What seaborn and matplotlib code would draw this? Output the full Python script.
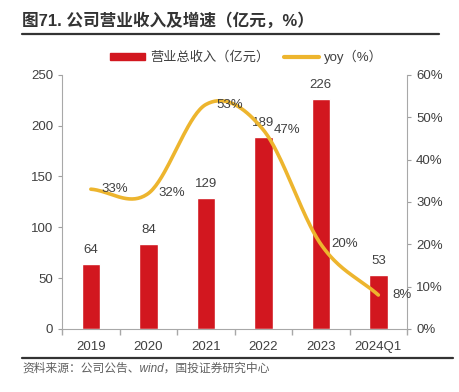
import numpy as np
import pandas as pd
import matplotlib
matplotlib.use("Agg")
import matplotlib.pyplot as plt
import seaborn as sns
from matplotlib.lines import Line2D
from matplotlib.patches import Patch

# data
years = ["2019", "2020", "2021", "2022", "2023", "2024Q1"]
revenue = [64, 84, 129, 189, 226, 53]
yoy = [33, 32, 53, 47, 20, 8]

RED = "#D2171F"
YELLOW = "#EDB52E"
GREY = "#404040"

sns.set_theme(style="white")
plt.rcParams["font.family"] = ["Liberation Sans", "Noto Sans CJK SC", "DejaVu Sans"]
plt.rcParams["axes.unicode_minus"] = False


def catmull_rom(xs, ys, n=40):
    # smooth line through the points, like excel's "smoothed line"
    xs = np.asarray(xs, float)
    ys = np.asarray(ys, float)
    px = np.concatenate([[2 * xs[0] - xs[1]], xs, [2 * xs[-1] - xs[-2]]])
    py = np.concatenate([[2 * ys[0] - ys[1]], ys, [2 * ys[-1] - ys[-2]]])
    out_x, out_y = [], []
    t = np.linspace(0, 1, n)
    for i in range(1, len(px) - 2):
        for p, out in ((px, out_x), (py, out_y)):
            p0, p1, p2, p3 = p[i - 1], p[i], p[i + 1], p[i + 2]
            seg = 0.5 * ((2 * p1) + (-p0 + p2) * t
                         + (2 * p0 - 5 * p1 + 4 * p2 - p3) * t ** 2
                         + (-p0 + 3 * p1 - 3 * p2 + p3) * t ** 3)
            out.extend(seg)
    return np.array(out_x), np.array(out_y)


df = pd.DataFrame({"year": years, "revenue": revenue, "yoy": yoy})

fig = plt.figure(figsize=(4.6, 3.92), dpi=100)
ax = fig.add_axes([0.135, 0.161, 0.75, 0.648])

sns.barplot(data=df, x="year", y="revenue", color=RED, width=0.32,
            saturation=1, ax=ax)
ax.set_ylim(0, 250)
ax.set_yticks(range(0, 251, 50))
ax.set_xlim(-0.5, 5.5)
ax.set_xlabel("")
ax.set_ylabel("")

for i, v in enumerate(revenue):
    ax.annotate(str(v), (i, v), xytext=(0, 10), textcoords="offset points",
                ha="center", va="center", fontsize=9.5, color=GREY)

ax2 = ax.twinx()
sx, sy = catmull_rom(range(len(yoy)), yoy)
ax2.plot(sx, sy, color=YELLOW, lw=2.6, solid_capstyle="round")
ax2.set_ylim(0, 60)
ax2.set_yticks(range(0, 61, 10))
ax2.set_yticklabels([f"{t}%" for t in range(0, 61, 10)])
for i, v in enumerate(yoy):
    ax2.annotate(f"{v}%", (i, v), xytext=(17, 0), textcoords="offset points",
                 ha="center", va="center", fontsize=9.5, color=GREY)

for a in (ax, ax2):
    for s in a.spines.values():
        s.set_visible(False)
    a.tick_params(colors="#A0A0A0", labelcolor=GREY, labelsize=9.5,
                  length=3, width=0.8)
    a.grid(False)
ax.spines["left"].set_visible(True)
ax.spines["bottom"].set_visible(True)
ax2.spines["right"].set_visible(True)
for s in (ax.spines["left"], ax.spines["bottom"], ax2.spines["right"]):
    s.set_color("#A8A8A8")
    s.set_linewidth(0.8)
ax.tick_params(axis="y", left=True)
ax2.tick_params(axis="y", right=True)
ax.set_xticks(np.arange(-0.5, 6, 1), minor=True)
ax.tick_params(axis="x", which="major", bottom=False, pad=6)
ax.tick_params(axis="x", which="minor", bottom=True, length=4,
               color="#A8A8A8")

handles = [Patch(color=RED), Line2D([0], [0], color=YELLOW, lw=3)]
fig.legend(handles, ["营业总收入（亿元）", "yoy（%）"], loc="center",
           bbox_to_anchor=(0.536, 0.855), ncol=2, frameon=False, fontsize=9.5,
           handlelength=2.6, handleheight=0.5, columnspacing=1.15,
           handletextpad=0.4, labelcolor=GREY)

fig.text(0.048, 0.948, "图71. 公司营业收入及增速（亿元，%）", fontsize=12,
         fontweight="bold", color="#333333", va="center")
fig.add_artist(Line2D([0.048, 0.955], [0.912, 0.912], color="#333333", lw=1.6))
fig.add_artist(Line2D([0.048, 0.985], [0.087, 0.087], color="#333333", lw=1.6))
fig.text(0.048, 0.06, "资料来源：公司公告、wind，国投证券研究中心", fontsize=8.5,
         color="#606060", va="center", style="italic")

fig.savefig("out.png", dpi=100)
